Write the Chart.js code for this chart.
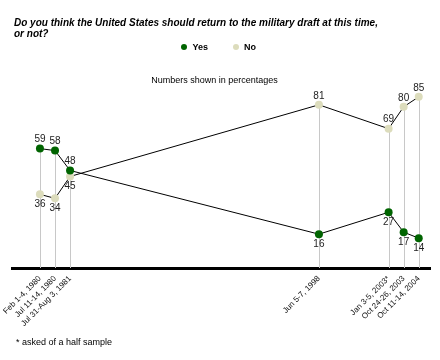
<!DOCTYPE html>
<html>
<head>
<meta charset="utf-8">
<script src="https://cdn.jsdelivr.net/npm/chart.js@4/dist/chart.umd.min.js"></script>
<style>
  html, body { margin: 0; padding: 0; background: #fff; }
  #wrap { position: relative; width: 440px; height: 360px; overflow: hidden; font-family: Arial, "Liberation Sans", sans-serif; color: #000; }
  #c { position: absolute; left: 0; top: 0; }
  .t { position: absolute; white-space: nowrap; }
  #title { left: 14px; top: 16.8px; font-size: 10px; font-weight: bold; font-style: italic; line-height: 11.5px; }
  .lg { font-size: 9px; font-weight: bold; line-height: 10px; top: 41.7px; }
  .dot { position: absolute; width: 6px; height: 6px; border-radius: 50%; top: 43.7px; }
  #sub { left: 0; width: 429px; text-align: center; top: 74.6px; font-size: 9px; line-height: 10px; }
  #foot { left: 16px; top: 337px; font-size: 9px; line-height: 10px; }
</style>
</head>
<body>
<div id="wrap">
  <canvas id="c" width="440" height="360"></canvas>
  <div id="title" class="t">Do you think the United States should return to the military draft at this time,<br>or not?</div>
  <div class="dot" style="left:181px;background:#006400;"></div>
  <div class="t lg" style="left:192.5px;">Yes</div>
  <div class="dot" style="left:233px;background:#dcdcbc;"></div>
  <div class="t lg" style="left:244px;">No</div>
  <div id="sub" class="t">Numbers shown in percentages</div>
  <div id="foot" class="t">* asked of a half sample</div>
</div>
<script>
// ---- data ----
const surveyLabels = ["Feb 1-4, 1980", "Jul 11-14, 1980", "Jul 31-Aug 3, 1981", "Jun 5-7, 1998", "Jan 3-5, 2003*", "Oct 24-26, 2003", "Oct 11-14, 2004"];
const surveyDates  = ["1980-02-02", "1980-07-12", "1981-08-01", "1998-06-06", "2003-01-04", "2003-10-25", "2004-10-12"];
const yesValues = [59, 58, 48, 16, 27, 17, 14];
const noValues  = [36, 34, 45, 81, 69, 80, 85];

// decimal year of each survey, spread apart by a minimum gap (as the original plotting does)
function decYear(s) {
  const d = new Date(s + "T00:00:00Z");
  const y = d.getUTCFullYear();
  const start = Date.UTC(y, 0, 1), end = Date.UTC(y + 1, 0, 1);
  return y + (d.getTime() - start) / (end - start);
}
const MIN_GAP = 0.99;
const xPos = [];
surveyDates.forEach((s, i) => {
  let v = decYear(s);
  if (i > 0 && v < xPos[i - 1] + MIN_GAP) v = xPos[i - 1] + MIN_GAP;
  xPos.push(v);
});

const GREEN = "#006400", BEIGE = "#dcdcbc";

const dropLines = {
  id: "dropLines",
  beforeDatasetsDraw(chart) {
    const ctx = chart.ctx, area = chart.chartArea;
    const m0 = chart.getDatasetMeta(0), m1 = chart.getDatasetMeta(1);
    ctx.save();
    ctx.strokeStyle = "#c8c8c8";
    ctx.lineWidth = 1;
    m0.data.forEach((p, i) => {
      const top = Math.min(p.y, m1.data[i].y);
      const x = Math.round(p.x) + 0.5;
      ctx.beginPath();
      ctx.moveTo(x, top);
      ctx.lineTo(x, area.bottom);
      ctx.stroke();
    });
    ctx.restore();
  }
};

const valueLabels = {
  id: "valueLabels",
  afterDatasetsDraw(chart) {
    const ctx = chart.ctx;
    const sets = [yesValues, noValues];
    ctx.save();
    ctx.font = "10px Arial, 'Liberation Sans', sans-serif";
    ctx.fillStyle = "#222";
    ctx.textAlign = "center";
    [0, 1].forEach(di => {
      const meta = chart.getDatasetMeta(di);
      const other = sets[1 - di];
      meta.data.forEach((p, i) => {
        const v = sets[di][i];
        if (v >= other[i]) {
          ctx.textBaseline = "bottom";
          ctx.fillText(String(v), p.x, p.y - 4);
        } else {
          ctx.textBaseline = "top";
          ctx.fillText(String(v), p.x, p.y + 5);
        }
      });
    });
    ctx.restore();
  }
};

new Chart(document.getElementById("c"), {
  type: "line",
  data: {
    datasets: [
      { label: "Yes", data: yesValues.map((v, i) => ({ x: xPos[i], y: v })),
        borderColor: "#000", borderWidth: 1, pointRadius: 4, pointBorderWidth: 0,
        pointBackgroundColor: GREEN, backgroundColor: GREEN, tension: 0, clip: false },
      { label: "No", data: noValues.map((v, i) => ({ x: xPos[i], y: v })),
        borderColor: "#000", borderWidth: 1, pointRadius: 4, pointBorderWidth: 0,
        pointBackgroundColor: BEIGE, backgroundColor: BEIGE, tension: 0, clip: false }
    ]
  },
  options: {
    responsive: false,
    animation: false,
    devicePixelRatio: 1,
    layout: { padding: { top: 67, left: 12, right: 10, bottom: 0 } },
    plugins: { legend: { display: false }, tooltip: { enabled: false }, title: { display: false } },
    scales: {
      y: { display: false, min: -1, max: 100 },
      x: {
        type: "linear",
        min: 1978.25, max: 2005.73,
        grid: { display: false, drawTicks: false },
        border: { display: true, color: "#000", width: 3 },
        afterBuildTicks(scale) { scale.ticks = xPos.map(v => ({ value: v })); },
        afterFit(scale) { scale.height = 92; scale.paddingLeft = 0; scale.paddingRight = 0; },
        ticks: {
          autoSkip: false, minRotation: 45, maxRotation: 45, padding: 6,
          color: "#111",
          font: { family: "Arial, 'Liberation Sans', sans-serif", size: 8 },
          callback(value) {
            const i = xPos.findIndex(v => Math.abs(v - value) < 1e-6);
            return i >= 0 ? surveyLabels[i] : "";
          }
        }
      }
    }
  },
  plugins: [dropLines, valueLabels]
});
</script>
</body>
</html>
